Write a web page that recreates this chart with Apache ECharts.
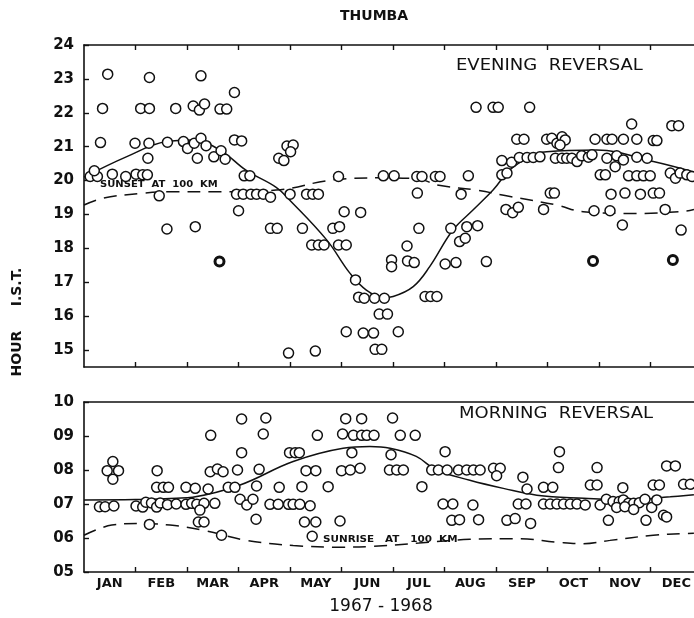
<!DOCTYPE html>
<html><head><meta charset="utf-8">
<script src="https://cdn.jsdelivr.net/npm/echarts@6/dist/echarts.min.js"></script>
<style>html,body{margin:0;padding:0;background:#fff}#c{width:694px;height:618px}</style>
</head><body><div id="c"></div>
<script>
// x values are months from 1 Jan (0) ; y values are hours I.S.T.
const months = ['JAN','FEB','MAR','APR','MAY','JUN','JUL','AUG','SEP','OCT','NOV','DEC'];
const monthTicks = [1,2,3,4,5,6,7,8,9,10,11];
const eveningTicks = [15,16,17,18,19,20,21,22,23,24];
const morningTicks = [5,6,7,8,9,10];

const eveningPoints = [[0.12,20.12],[0.26,20.12],[0.20,20.29],[0.46,23.14],[0.36,22.13],[0.32,21.12],[0.55,20.19],[0.81,20.12],[1.01,20.19],[1.14,20.17],[1.23,20.17],[0.99,21.10],[1.26,21.10],[1.27,23.04],[1.10,22.13],[1.27,22.13],[1.24,20.66],[1.46,19.55],[1.62,21.13],[1.78,22.13],[1.93,21.15],[2.01,20.95],[2.12,22.20],[2.24,22.08],[2.34,22.26],[2.14,21.10],[2.27,21.25],[2.37,21.03],[2.27,23.09],[2.20,20.66],[2.52,20.70],[2.66,20.88],[2.74,20.63],[2.64,22.11],[2.77,22.11],[2.92,22.60],[2.92,21.20],[3.06,21.17],[3.11,20.14],[3.22,20.14],[2.96,19.60],[3.09,19.60],[3.24,19.60],[3.35,19.60],[3.48,19.60],[3.62,19.51],[3.78,20.66],[3.88,20.59],[3.94,21.02],[4.06,21.05],[4.01,20.85],[4.00,19.60],[4.32,19.60],[4.44,19.60],[4.55,19.60],[4.94,20.12],[1.61,18.57],[2.16,18.64],[3.00,19.11],[3.62,18.59],[3.75,18.59],[4.24,18.59],[4.42,18.10],[4.55,18.10],[4.66,18.10],[4.83,18.59],[4.96,18.64],[5.05,19.08],[4.94,18.10],[5.09,18.10],[5.37,19.06],[5.27,17.07],[5.33,16.56],[5.44,16.53],[5.64,16.53],[5.83,16.53],[5.73,16.06],[5.89,16.06],[5.09,15.54],[5.42,15.50],[5.62,15.50],[6.10,15.54],[5.65,15.02],[5.78,15.02],[3.97,14.91],[4.49,14.97],[6.47,19.63],[6.50,18.59],[6.27,18.07],[5.97,17.66],[5.97,17.46],[6.28,17.63],[6.41,17.58],[6.62,16.58],[6.73,16.58],[6.85,16.58],[7.01,17.54],[7.22,17.58],[7.12,18.59],[7.29,18.20],[7.40,18.30],[7.43,18.64],[7.64,18.67],[7.81,17.61],[7.32,19.60],[8.19,19.15],[8.32,19.05],[8.43,19.21],[8.92,19.15],[9.05,19.63],[9.13,19.63],[9.90,19.11],[10.21,19.11],[10.45,18.69],[10.23,19.60],[10.50,19.63],[10.80,19.60],[11.05,19.63],[11.17,19.63],[11.28,19.15],[11.59,18.54],[5.81,20.14],[6.02,20.14],[6.46,20.12],[6.56,20.12],[6.82,20.12],[6.91,20.12],[7.46,20.14],[7.61,22.16],[7.94,22.16],[8.04,22.16],[8.65,22.16],[8.40,21.22],[8.54,21.22],[8.11,20.17],[8.21,20.22],[8.11,20.59],[8.30,20.54],[8.45,20.68],[8.60,20.68],[8.72,20.68],[8.85,20.70],[8.98,21.22],[9.08,21.25],[9.18,21.10],[9.28,21.29],[9.34,21.20],[9.24,21.05],[9.15,20.66],[9.28,20.66],[9.37,20.66],[9.47,20.66],[9.57,20.56],[9.66,20.73],[9.79,20.69],[9.86,20.76],[9.92,21.22],[10.15,21.22],[10.25,21.22],[10.47,21.22],[10.73,21.22],[11.05,21.18],[11.12,21.18],[10.15,20.66],[10.34,20.73],[10.31,20.41],[10.47,20.61],[10.73,20.69],[10.93,20.66],[10.63,21.67],[11.41,21.62],[11.54,21.62],[10.02,20.17],[10.12,20.17],[10.57,20.14],[10.73,20.14],[10.86,20.14],[10.99,20.14],[11.38,20.22],[11.48,20.07],[11.57,20.22],[11.70,20.17],[11.80,20.12]];
const eveningBoldPoints = [[2.63,17.61],[9.88,17.63],[11.43,17.66]];
const eveningMean = [[0.00,20.10],[0.82,20.70],[1.60,21.15],[2.11,21.20],[2.64,20.90],[3.15,20.30],[3.73,19.80],[3.99,19.43],[4.71,18.25],[5.16,17.27],[5.48,16.77],[5.83,16.55],[6.00,16.58],[6.39,16.87],[6.71,17.46],[7.16,18.54],[7.55,19.13],[7.94,19.72],[8.33,20.40],[8.98,20.85],[9.95,20.90],[11.05,20.56],[11.84,20.25]];
const sunset100km = [[0.00,19.28],[0.37,19.48],[1.09,19.62],[1.67,19.67],[2.64,19.67],[3.73,19.72],[4.83,20.02],[5.73,20.08],[6.50,20.05],[6.85,19.87],[7.61,19.72],[8.27,19.53],[9.17,19.28],[9.69,19.08],[10.72,19.03],[11.69,19.10],[11.84,19.15]];

const morningPoints = [[0.30,6.92],[0.41,6.92],[0.58,6.94],[0.45,7.98],[0.56,8.25],[0.67,7.98],[0.56,7.73],[1.01,6.94],[1.14,6.91],[1.20,7.05],[1.31,7.03],[1.41,6.91],[1.48,7.03],[1.62,6.98],[1.79,7.00],[1.27,6.40],[1.42,7.98],[1.41,7.49],[1.54,7.49],[1.64,7.49],[1.98,7.49],[2.16,7.46],[1.98,6.99],[2.09,7.02],[2.19,6.99],[2.33,7.02],[2.25,6.82],[2.22,6.47],[2.33,6.47],[2.41,7.44],[2.46,9.02],[2.45,7.95],[2.59,8.03],[2.70,7.95],[2.54,7.02],[2.67,6.08],[2.80,7.49],[2.93,7.49],[2.98,8.00],[3.06,9.50],[3.06,8.51],[3.03,7.14],[3.16,6.97],[3.28,7.14],[3.35,7.53],[3.40,8.02],[3.34,6.55],[3.53,9.53],[3.48,9.06],[3.61,6.99],[3.77,6.99],[3.97,6.99],[4.06,6.99],[4.19,6.99],[4.39,6.95],[3.79,7.49],[3.99,8.51],[4.10,8.51],[4.18,8.51],[4.23,7.51],[4.31,7.98],[4.50,7.98],[4.53,9.02],[4.28,6.47],[4.50,6.47],[4.43,6.05],[4.74,7.51],[4.97,6.50],[5.00,7.98],[5.17,8.00],[5.20,8.51],[5.36,8.05],[5.02,9.06],[5.08,9.51],[5.39,9.51],[5.23,9.02],[5.39,9.02],[5.49,9.02],[5.63,9.02],[5.99,9.53],[6.14,9.02],[6.43,9.02],[5.96,8.45],[5.93,8.00],[6.07,8.00],[6.20,8.00],[6.56,7.51],[7.01,8.54],[6.75,8.00],[6.88,8.00],[7.05,8.00],[7.27,8.00],[7.43,8.00],[7.56,8.00],[7.69,8.00],[7.95,8.05],[8.08,8.05],[8.01,7.83],[8.52,7.79],[8.60,7.44],[8.92,7.49],[9.10,7.49],[9.23,8.54],[9.21,8.07],[9.96,8.07],[9.83,7.56],[9.96,7.56],[10.46,7.48],[11.05,7.56],[11.17,7.56],[11.31,8.12],[11.48,8.12],[11.64,7.58],[11.77,7.58],[6.97,7.00],[7.16,7.00],[7.55,6.97],[7.14,6.52],[7.29,6.54],[7.66,6.54],[8.21,6.52],[8.37,6.57],[8.67,6.43],[8.43,7.00],[8.58,7.00],[8.92,7.00],[9.05,7.00],[9.18,7.00],[9.31,7.00],[9.44,7.00],[9.57,7.00],[9.73,6.97],[10.02,6.97],[10.14,7.14],[10.27,7.07],[10.39,7.07],[10.47,7.12],[10.57,7.02],[10.67,7.02],[10.78,7.04],[10.89,7.14],[10.34,6.90],[10.50,6.92],[10.67,6.84],[11.02,6.90],[11.12,7.12],[10.18,6.52],[10.91,6.52],[11.25,6.67],[11.31,6.62]];
const morningMean = [[0.00,7.12],[1.00,7.13],[1.79,7.17],[2.11,7.20],[3.03,7.56],[4.06,8.25],[5.03,8.64],[5.55,8.69],[5.94,8.64],[6.45,8.40],[6.84,8.00],[7.49,7.70],[8.14,7.46],[8.79,7.26],[9.70,7.17],[10.60,7.12],[11.38,7.21],[11.84,7.27]];
const sunrise100km = [[0.00,6.08],[0.54,6.38],[1.09,6.43],[1.67,6.38],[2.31,6.23],[3.16,5.93],[4.06,5.78],[5.03,5.73],[5.55,5.75],[6.50,5.85],[7.49,5.96],[8.47,5.98],[9.17,5.88],[9.69,5.83],[10.21,5.93],[11.05,6.08],[11.63,6.13],[11.84,6.14]];

const X_MAX = 11.84;
const INK = '#111';
const FONT = 'DejaVu Sans';
const axisLine = {show:true, onZero:false, lineStyle:{color:INK, width:1.6}};

function xAxisDef(grid, pos, opts) {
  return Object.assign({
    gridIndex:grid, type:'value', position:pos, min:0, max:X_MAX,
    axisLine:axisLine, splitLine:{show:false},
    axisTick:{show:true, inside:true, length:5, customValues:monthTicks, lineStyle:{color:INK, width:1.4}},
    axisLabel:{show:false}
  }, opts || {});
}

const chart = echarts.init(document.getElementById('c'));
chart.setOption({
  animation:false,
  backgroundColor:'#fff',
  grid:[
    {left:84, top:45, right:0, height:322},
    {left:84, top:402, right:0, height:170}
  ],
  xAxis:[
    xAxisDef(0,'bottom'),
    xAxisDef(0,'top'),
    xAxisDef(1,'bottom',{axisLabel:{show:true, customValues:months.map((m,i)=>i+0.5), formatter:v=>months[Math.floor(v)], margin:5, color:INK, fontFamily:FONT, fontWeight:'bold', fontSize:13}}),
    xAxisDef(1,'top',{axisTick:{show:false}})
  ],
  yAxis:[
    {gridIndex:0, type:'value', min:14.5, max:24, axisLine:axisLine, splitLine:{show:false},
     axisTick:{show:true, inside:true, length:5, customValues:eveningTicks, lineStyle:{color:INK, width:1.4}},
     axisLabel:{customValues:eveningTicks, margin:10, color:INK, fontFamily:FONT, fontWeight:'bold', fontSize:15}},
    {gridIndex:1, type:'value', min:5, max:10, axisLine:axisLine, splitLine:{show:false},
     axisTick:{show:true, inside:true, length:5, customValues:morningTicks, lineStyle:{color:INK, width:1.4}},
     axisLabel:{customValues:morningTicks, margin:10, formatter:v=>String(v).padStart(2,'0'), color:INK, fontFamily:FONT, fontWeight:'bold', fontSize:15}}
  ],
  series:[
    {type:'line', xAxisIndex:0, yAxisIndex:0, data:sunset100km, smooth:0.4, showSymbol:false, lineStyle:{color:INK, width:1.5, type:[13,8]}, z:2},
    {type:'line', xAxisIndex:0, yAxisIndex:0, data:eveningMean, smooth:0.4, showSymbol:false, lineStyle:{color:INK, width:1.5}, z:2},
    {type:'scatter', xAxisIndex:0, yAxisIndex:0, data:eveningPoints, symbol:'circle', symbolSize:10, itemStyle:{color:'#fff', borderColor:INK, borderWidth:1.5, opacity:1}, z:3},
    {type:'scatter', xAxisIndex:0, yAxisIndex:0, data:eveningBoldPoints, symbol:'circle', symbolSize:9, itemStyle:{color:'#fff', borderColor:INK, borderWidth:3, opacity:1}, z:3},
    {type:'line', xAxisIndex:2, yAxisIndex:1, data:sunrise100km, smooth:0.4, showSymbol:false, lineStyle:{color:INK, width:1.5, type:[13,8]}, z:2},
    {type:'line', xAxisIndex:2, yAxisIndex:1, data:morningMean, smooth:0.4, showSymbol:false, lineStyle:{color:INK, width:1.5}, z:2},
    {type:'scatter', xAxisIndex:2, yAxisIndex:1, data:morningPoints, symbol:'circle', symbolSize:10, itemStyle:{color:'#fff', borderColor:INK, borderWidth:1.5, opacity:1}, z:3}
  ],
  graphic:[
    {type:'text', left:340, top:9, style:{text:'THUMBA', fill:INK, font:'bold 14px "DejaVu Sans"'}},
    {type:'text', x:456, y:59, scaleX:1.2, style:{text:'EVENING  REVERSAL', fill:INK, font:'15px "DejaVu Sans"'}},
    {type:'text', x:459, y:407, scaleX:1.2, style:{text:'MORNING  REVERSAL', fill:INK, font:'15px "DejaVu Sans"'}},
    {type:'text', x:100, y:181, scaleX:1.25, style:{text:'SUNSET  AT  100  KM', fill:INK, font:'bold 8px "DejaVu Sans"'}},
    {type:'text', x:323, y:536, scaleX:1.3, style:{text:'SUNRISE   AT   100  KM', fill:INK, font:'bold 8px "DejaVu Sans"'}},
    {type:'text', x:17, y:322, rotation:Math.PI/2, style:{text:'HOUR     I.S.T.', fill:INK, font:'bold 14px "DejaVu Sans"', align:'center', verticalAlign:'middle'}},
    {type:'text', x:381, y:607, style:{text:'1967 - 1968', fill:INK, font:'17px "DejaVu Sans"', align:'center', verticalAlign:'middle'}}
  ]
});
</script></body></html>
